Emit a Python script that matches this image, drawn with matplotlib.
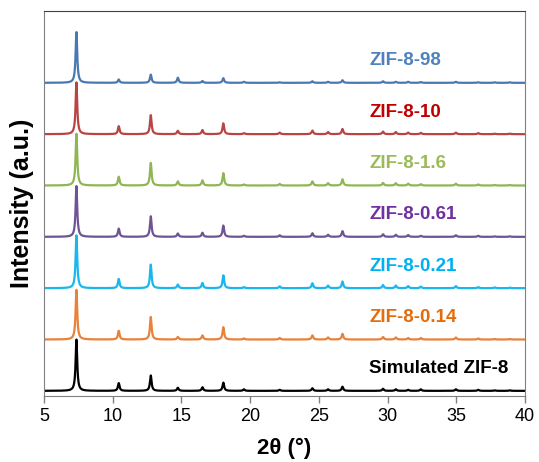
#!/usr/bin/env python3
"""Stacked PXRD patterns of ZIF-8 samples (simulated + six syntheses)."""

import numpy as np
import matplotlib
matplotlib.use("Agg")
import matplotlib.pyplot as plt

plt.rcParams["font.family"] = ["Liberation Sans", "DejaVu Sans"]

# reflection positions (2theta, deg)
peak_pos = [7.36, 10.44, 12.77, 14.74, 16.53, 18.05, 19.55, 22.15, 24.53, 25.67,
            26.72, 29.67, 30.6, 31.5, 32.42, 34.97, 36.6, 37.8, 38.9]

# relative intensities (main peak = 1) per sample, same order as peak_pos
sim_int = [1.00, 0.15, 0.30, 0.06, 0.07, 0.16, 0.03, 0.02, 0.05, 0.03,
           0.08, 0.04, 0.03, 0.02, 0.03, 0.03, 0.02, 0.01, 0.01]
i014_int = [0.97, 0.17, 0.44, 0.05, 0.08, 0.24, 0.02, 0.03, 0.08, 0.04,
            0.11, 0.05, 0.04, 0.03, 0.03, 0.04, 0.02, 0.01, 0.01]
i021_int = [1.03, 0.18, 0.46, 0.07, 0.10, 0.25, 0.02, 0.035, 0.095, 0.05,
            0.13, 0.06, 0.05, 0.04, 0.03, 0.04, 0.02, 0.015, 0.01]
i061_int = [0.99, 0.16, 0.40, 0.065, 0.08, 0.22, 0.02, 0.03, 0.07, 0.04,
            0.11, 0.05, 0.04, 0.035, 0.02, 0.03, 0.02, 0.01, 0.01]
i16_int = [1.01, 0.17, 0.44, 0.08, 0.10, 0.24, 0.02, 0.03, 0.08, 0.045,
           0.12, 0.05, 0.045, 0.035, 0.025, 0.035, 0.02, 0.01, 0.01]
i10_int = [1.01, 0.155, 0.37, 0.065, 0.08, 0.21, 0.02, 0.03, 0.07, 0.04,
           0.10, 0.05, 0.04, 0.03, 0.025, 0.03, 0.02, 0.01, 0.01]
i98_int = [0.99, 0.065, 0.16, 0.10, 0.035, 0.09, 0.02, 0.01, 0.03, 0.02,
           0.05, 0.03, 0.02, 0.02, 0.015, 0.02, 0.01, 0.01, 0.01]

labels = ["Simulated ZIF-8", "ZIF-8-0.14", "ZIF-8-0.21", "ZIF-8-0.61",
          "ZIF-8-1.6", "ZIF-8-10", "ZIF-8-98"]
intensities = [sim_int, i014_int, i021_int, i061_int, i16_int, i10_int, i98_int]
line_colors = ["#000000", "#E8823A", "#1AB6EE", "#6E5494", "#8FB653", "#B94444", "#4A78B2"]
text_colors = ["#000000", "#E46C0A", "#00B0F0", "#7030A0", "#9BBB59", "#C00000", "#4F81BD"]


def pattern(x, pos, amp, fwhm=0.14):
    g = fwhm / 2
    y = np.zeros_like(x)
    for p, a in zip(pos, amp):
        y += a * g**2 / ((x - p)**2 + g**2)
    return y


x = np.linspace(5, 40, 4000)
fig = plt.figure(figsize=(5.39, 4.62), dpi=100)
ax = fig.add_axes([0.0816, 0.1429, 0.8924, 0.8334])

for k, (lab, amp) in enumerate(zip(labels, intensities)):
    ax.plot(x, pattern(x, peak_pos, amp) + k, color=line_colors[k], lw=1.6)
    ax.text(28.65, k + 0.43, lab, color=text_colors[k], fontsize=13.5,
            fontweight="bold", va="center", ha="left")

ax.set_xlim(5, 40)
ax.set_ylim(-0.1, 7.4)
ax.set_xticks(np.arange(5, 41, 5))
ax.set_yticks([])
ax.tick_params(axis="x", direction="out", length=5, width=1, color="#808080",
               labelsize=13, pad=4)
for side in ["left", "right", "bottom"]:
    ax.spines[side].set_color("#808080")
ax.spines["top"].set_color("#404040")
ax.set_xlabel("2θ (°)", fontsize=16, fontweight="bold", labelpad=9)
ax.set_ylabel("Intensity (a.u.)", fontsize=18, fontweight="bold", labelpad=7)

fig.savefig("out.png", dpi=100)
